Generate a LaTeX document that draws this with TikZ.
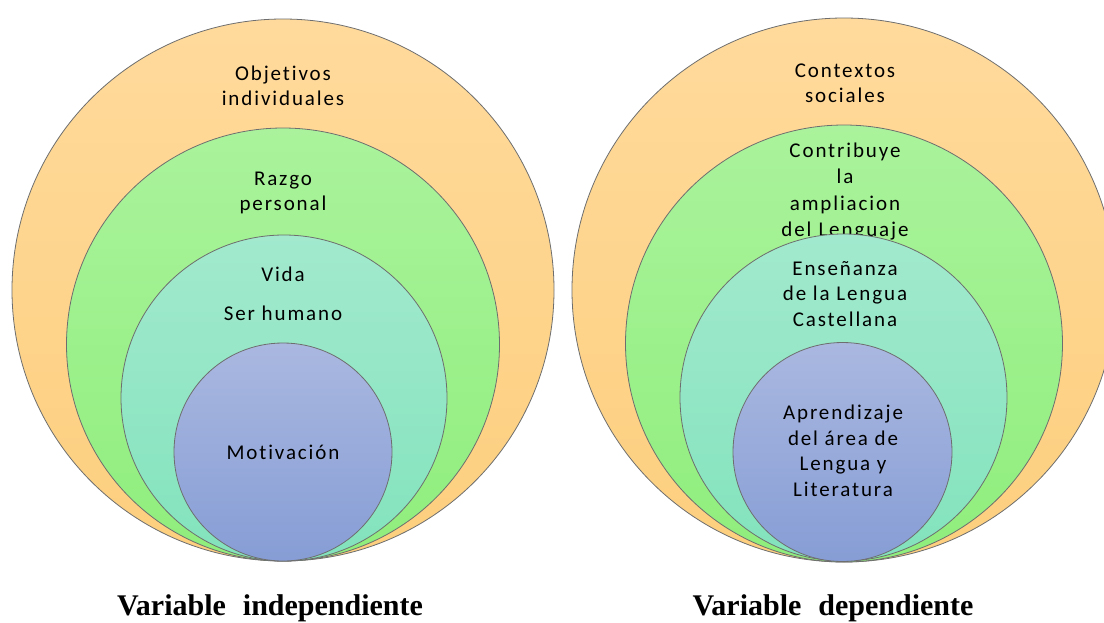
\documentclass[tikz,border=0pt]{standalone}
\usepackage{fontspec}
\setmainfont{Carlito}
\newfontfamily\lblfont{Carlito}[LetterSpace=9,Ligatures=NoCommon]
\newfontfamily\capfont{Liberation Serif}
\definecolor{orT}{HTML}{FFDA9C}
\definecolor{orB}{HTML}{FDCF7E}
\definecolor{grT}{HTML}{AAF39C}
\definecolor{grB}{HTML}{8FEE7C}
\definecolor{tlT}{HTML}{A2E9CE}
\definecolor{tlB}{HTML}{82E3BC}
\definecolor{blT}{HTML}{AAB8E0}
\definecolor{blB}{HTML}{869DD5}
\definecolor{edge}{HTML}{6E6E6E}
\begin{document}
\begin{tikzpicture}[x=1pt,y=-1pt,
  ring/.style={circle, draw=edge, line width=0.8pt, inner sep=0pt},
  orring/.style={ring, top color=orT, bottom color=orB},
  grring/.style={ring, top color=grT, bottom color=grB},
  tlring/.style={ring, top color=tlT, bottom color=tlB},
  blring/.style={ring, top color=blT, bottom color=blB},
  lbl/.style={align=center, font=\lblfont\fontsize{21}{25.5}\selectfont, text=black, inner sep=0pt},
  captext/.style={font=\capfont\bfseries\fontsize{30}{34}\selectfont, inner sep=0pt, anchor=base}
]
\clip (0,0) rectangle (1104,622);
\fill[white] (0,0) rectangle (1104,622);
% ---------- left ----------
\node[orring, minimum size=542pt] (lo) at (283,290) {};
\node[lbl] (lot) at (283,86) {Objetivos\\individuales};
\node[grring, minimum size=433pt] (lg) at (283,344.5) {};
\node[lbl] (lgt) at (283,193) {Razgo\\personal};
\node[tlring, minimum size=326pt] (lt) at (284,398) {};
\node[lbl] (ltt1) at (283,274) {Vida};
\node[lbl] (ltt2) at (283,313) {Ser humano};
\node[blring, minimum size=218pt] (lb) at (283,452) {};
\node[lbl] (lbt) at (283,452) {Motivación};
% ---------- right ----------
\node[orring, minimum size=544pt] (ro) at (844,290) {};
\node[lbl] (rot) at (845,83.5) {Contextos\\sociales};
\node[grring, minimum size=437pt] (rg) at (844,343.5) {};
\node[lbl, text width=160pt, font=\lblfont\fontsize{21}{26.6}\selectfont] (rgt) at (845,191.5) {Contribuye\\la\\ampliacion\\del Lenguaje};
\node[tlring, minimum size=327pt] (rt) at (843.5,397.5) {};
\node[lbl] (rtt) at (845,294) {Enseñanza\\de la Lengua\\Castellana};
\node[blring, minimum size=219pt] (rb) at (842.5,452) {};
\node[lbl] (rbt) at (843,451) {Aprendizaje\\del área de\\Lengua y\\Literatura};
% ---------- captions ----------
\node[captext] (capl) at (270,615) {Variable\hspace{17pt}independiente};
\node[captext] (capr) at (833,615) {Variable\hspace{17pt}dependiente};
\end{tikzpicture}
\end{document}
